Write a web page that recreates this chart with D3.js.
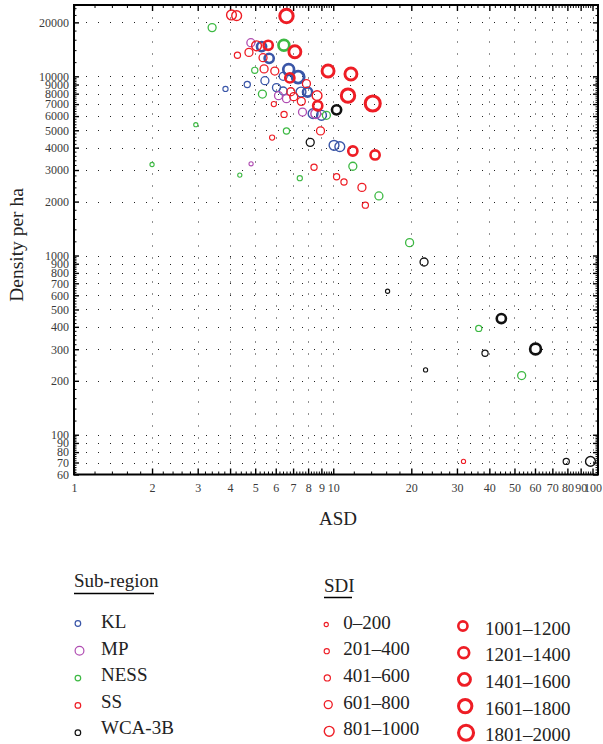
<!DOCTYPE html>
<html><head><meta charset="utf-8">
<script src="https://cdn.jsdelivr.net/npm/d3@7"></script>
<style>body{margin:0;background:#fff} svg{display:block}</style>
</head><body><svg id="c" width="603" height="744"></svg>
<script>
// ---------------- data ----------------
const subRegions = ["KL", "MP", "NESS", "SS", "WCA-3B"];
const sdiLabels = ["0–200","201–400","401–600","601–800","801–1000",
                   "1001–1200","1201–1400","1401–1600","1601–1800","1801–2000"];
const xTickLabels = [1,2,3,4,5,6,7,8,9,10,20,30,40,50,60,70,80,90,100];
const yTickLabels = [60,70,80,90,100,200,300,400,500,600,700,800,900,1000,
                     2000,3000,4000,5000,6000,7000,8000,9000,10000,20000];
const xGridValues = [2,3,4,5,6,7,8,9,10,20,30,40,50,60,70,80,90,100];
const yGridValues = [70,80,90,100,200,300,400,500,600,700,800,900,1000,
                     2000,3000,4000,5000,6000,7000,8000,9000,10000,20000];

// each point: [ASD, density per ha, SDI class index]
const KL = [
  [5.29,14650,5],[5.66,12600,5],[6.73,10900,6],[6.41,10000,3],[7.32,9900,7],
  [3.84,8500,1],[4.66,9000,2],[5.45,9450,3],[6.04,8650,3],[6.41,8280,3],
  [7.51,8170,4],[7.96,8170,5],[8.36,6190,4],[9.01,6060,4],[10.07,4120,4],[10.6,4050,4]
];
const MP = [
  [4.81,15400,3],[6.15,7800,3],[6.6,7500,3],[7.61,6320,3],[8.56,6190,4],[4.82,3250,0]
];
const NESS = [
  [3.41,18700,3],[6.45,14900,6],[4.98,10800,2],[5.33,7960,3],[9.41,6060,3],
  [2.95,5370,0],[6.6,4950,2],[11.9,3150,3],[4.36,2810,0],[7.43,2700,1],
  [15.0,2150,3],[2.0,3220,0],[19.7,1180,3],[36.4,392,2],[53.3,214,3]
];
const SS = [
  [4.05,22000,4],[4.24,21800,4],[6.6,21700,8],[5.06,14800,4],[5.61,14900,5],
  [7.11,13700,7],[4.27,13100,2],[4.73,13600,3],[5.36,12700,3],[5.41,11000,3],
  [5.95,10700,3],[6.8,9800,5],[9.55,10700,7],[11.7,10300,7],[7.88,9100,3],
  [6.86,8200,3],[8.66,7800,4],[11.4,7800,8],[7.04,7700,3],[7.53,7250,3],
  [5.9,7000,1],[8.71,6850,5],[14.2,7050,9],[6.46,6130,2],[8.93,4960,3],
  [5.81,4550,1],[11.9,3830,5],[14.5,3640,5],[8.43,3110,2],[10.3,2750,2],
  [11.0,2570,2],[12.9,2400,3],[13.3,1910,2],[31.8,71,0]
];
const WCA3B = [
  [10.3,6500,5],[8.15,4280,3],[22.4,920,3],[16.2,632,0],[44.5,445,5],
  [60.3,301,6],[38.5,285,2],[22.7,230,0],[79.2,71,2],[98.2,71,4]
];
const seriesData = [KL, MP, NESS, SS, WCA3B];

// ---------------- styles ----------------
const colors = {"KL":"#3a56a8","MP":"#b04db2","NESS":"#3db943","SS":"#ee1d25","WCA-3B":"#111111"};
const sdiR  = [2.1,2.6,3.1,4.0,4.9,4.6,5.4,6.0,6.7,7.5];
const sdiSW = [1.1,1.1,1.2,1.3,1.4,2.6,2.7,2.9,3.0,3.1];
const serif = "'Liberation Serif','DejaVu Serif',serif";

const svg = d3.select("#c");
const x = d3.scaleLog().domain([1,105]).range([74,598]);
const y = d3.scaleLog().domain([60,25000]).range([474.5,5]);
const [x0,x1] = x.range(); const [y0,y1] = [y.range()[1], y.range()[0]];

// minor ticks every 0.2 of a unit within each decade
function minor(domain){
  const out=[];
  for (const k of [1,10,100,1000,10000]){
    for (let i=6;i<50;i++){ // m = i*0.2 (1.2..9.8)
      if (i%5===0) continue;
      const v = Math.round(i*0.2*k*1000)/1000;
      if (v>domain[0] && v<domain[1]) out.push(v);
    }
  }
  return out;
}
const xMinor = minor(x.domain()), yMinor = minor(y.domain());

// grid
const grid = svg.append("g").attr("stroke","#222").attr("stroke-width",1).attr("stroke-dasharray","1 11");
grid.selectAll("line.h").data(yGridValues).join("line").attr("class","h")
  .attr("x1",x0).attr("x2",x1).attr("y1",d=>Math.round(y(d))+0.5).attr("y2",d=>Math.round(y(d))+0.5);
grid.selectAll("line.v").data(xGridValues).join("line").attr("class","v")
  .attr("y1",y0+0.5).attr("y2",y1).attr("x1",d=>Math.round(x(d))+0.5).attr("x2",d=>Math.round(x(d))+0.5);

// axes
function styleAxis(g, sw){
  g.select(".domain").remove();
  g.selectAll(".tick line").attr("stroke","#000").attr("stroke-width",sw);
  g.selectAll(".tick text").attr("font-family",serif).attr("font-size",12).attr("fill","#3a3a3a");
}
const fmt = d=>String(d);
svg.append("g").attr("transform",`translate(0,${y1})`)
  .call(d3.axisBottom(x).tickValues(xTickLabels).tickSize(-6).tickPadding(9).tickFormat(fmt)).call(g=>styleAxis(g,1.4));
svg.append("g").attr("transform",`translate(0,${y1})`)
  .call(d3.axisBottom(x).tickValues(xMinor).tickSize(-3).tickFormat("")).call(g=>styleAxis(g,1));
svg.append("g").attr("transform",`translate(0,${y0})`)
  .call(d3.axisTop(x).tickValues(xTickLabels).tickSize(-6).tickFormat("")).call(g=>styleAxis(g,1.4));
svg.append("g").attr("transform",`translate(0,${y0})`)
  .call(d3.axisTop(x).tickValues(xMinor).tickSize(-3).tickFormat("")).call(g=>styleAxis(g,1));
svg.append("g").attr("transform",`translate(${x0},0)`)
  .call(d3.axisLeft(y).tickValues(yTickLabels).tickSize(-5).tickPadding(5).tickFormat(fmt)).call(g=>styleAxis(g,1.4));
svg.append("g").attr("transform",`translate(${x0},0)`)
  .call(d3.axisLeft(y).tickValues(yMinor).tickSize(-2.5).tickFormat("")).call(g=>styleAxis(g,1));
svg.append("g").attr("transform",`translate(${x1},0)`)
  .call(d3.axisRight(y).tickValues(yTickLabels).tickSize(-5).tickFormat("")).call(g=>styleAxis(g,1.4));
svg.append("g").attr("transform",`translate(${x1},0)`)
  .call(d3.axisRight(y).tickValues(yMinor).tickSize(-2.5).tickFormat("")).call(g=>styleAxis(g,1));

// frame
svg.append("rect").attr("x",x0).attr("y",y0).attr("width",x1-x0).attr("height",y1-y0)
  .attr("fill","none").attr("stroke","#000").attr("stroke-width",2);

// points
subRegions.forEach((name,i)=>{
  svg.append("g").selectAll("circle").data(seriesData[i]).join("circle")
    .attr("cx",d=>x(d[0])).attr("cy",d=>y(d[1]))
    .attr("r",d=>sdiR[d[2]]).attr("stroke-width",d=>sdiSW[d[2]])
    .attr("fill","none").attr("stroke",colors[name]);
});

// axis titles
svg.append("text").attr("x",338).attr("y",525).attr("text-anchor","middle")
  .attr("font-family",serif).attr("font-size",19).attr("fill","#222").text("ASD");
svg.append("text").attr("transform","translate(23,245) rotate(-90)").attr("text-anchor","middle")
  .attr("font-family",serif).attr("font-size",19.5).attr("fill","#222").text("Density per ha");

// legend: Sub-region
const lg = svg.append("g").attr("font-family",serif).attr("fill","#222");
lg.append("text").attr("x",74).attr("y",587).attr("font-size",19).text("Sub-region");
lg.append("line").attr("x1",74).attr("x2",154).attr("y1",593.5).attr("y2",593.5).attr("stroke","#000").attr("stroke-width",1.5);
const subR = [2.8,4.4,2.8,2.8,2.8];
subRegions.forEach((name,i)=>{
  lg.append("circle").attr("cx",74.5+subR[i]+0.6).attr("cy",623.5+i*27.3).attr("r",subR[i])
    .attr("fill","none").attr("stroke",colors[name]).attr("stroke-width",1.2);
  lg.append("text").attr("x",101).attr("y",628+i*26.6).attr("font-size",19).text(name);
});
// legend: SDI
lg.append("text").attr("x",324).attr("y",592).attr("font-size",19).text("SDI");
lg.append("line").attr("x1",324).attr("x2",352).attr("y1",597.5).attr("y2",597.5).attr("stroke","#000").attr("stroke-width",1.5);
sdiLabels.forEach((lab,i)=>{
  const col = i<5?0:1, row = i%5;
  const outer = sdiR[i]+sdiSW[i]/2;
  const left = col?457:323.6;
  const cy = (col?626:624.5) + row*26.7;
  lg.append("circle").attr("cx",left+outer).attr("cy",cy).attr("r",sdiR[i])
    .attr("fill","none").attr("stroke",colors["SS"]).attr("stroke-width",sdiSW[i]);
  lg.append("text").attr("x",col?485:343.3).attr("y",cy+(col?8.5:4)).attr("font-size",19).text(lab);
});
</script></body></html>
